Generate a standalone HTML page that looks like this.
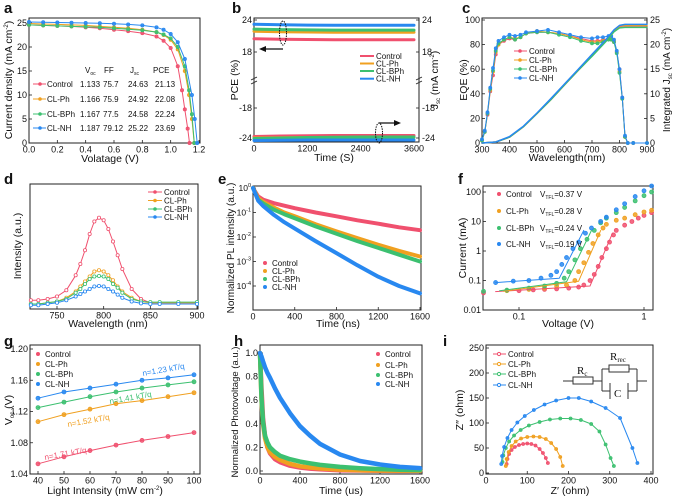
<!DOCTYPE html>
<html><head><meta charset="utf-8"><style>
html,body{margin:0;padding:0;background:#fff;}
svg{display:block;font-family:"Liberation Sans",Arial,sans-serif;}
</style></head><body>
<svg id="fig" width="676" height="496" viewBox="0 0 676 496" xmlns="http://www.w3.org/2000/svg"></svg>
<script>
// ---------- data ----------
const seriesNames=['Control','CL-Ph','CL-BPh','CL-NH'];
// a: J-V
const aV=[[0,0.1,0.2,0.3,0.4,0.5,0.6,0.7,0.8,0.9,0.95,1.0,1.05,1.08,1.1,1.12,1.133],
 [0,0.1,0.2,0.3,0.4,0.5,0.6,0.7,0.8,0.9,0.95,1.0,1.05,1.1,1.13,1.15,1.166],
 [0,0.1,0.2,0.3,0.4,0.5,0.6,0.7,0.8,0.9,0.95,1.0,1.05,1.1,1.13,1.15,1.167],
 [0,0.1,0.2,0.3,0.4,0.5,0.6,0.7,0.8,0.9,0.95,1.0,1.05,1.1,1.15,1.17,1.187]];
const aJ=[[24.6,24.5,24.4,24.3,24.1,23.9,23.6,23.3,22.9,22.2,21.3,19.8,16,11,7,3,0],
 [24.9,24.8,24.7,24.6,24.5,24.3,24.1,23.9,23.6,23.1,22.5,21.5,19.5,15,10,5,0],
 [24.6,24.5,24.4,24.3,24.2,24.1,23.9,23.7,23.5,23.1,22.6,21.8,20,16,11,6,0],
 [25.2,25.15,25.1,25.05,25,24.95,24.85,24.7,24.5,24.1,23.6,22.7,21,17.5,10,5,0]];
const aVoc=['1.133','1.166','1.167','1.187'];
const aFF=['75.7','75.9','77.5','79.12'];
const aJsc=['24.63','24.92','24.58','25.22'];
const aPCE=['21.13','22.08','22.24','23.69'];
// b: stability
const bT=[0,600,1200,1800,2400,3000,3600];
const bPCE=[[20.5,20.4,20.35,20.3,20.3,20.3,20.3],[21.9,21.8,21.75,21.7,21.7,21.7,21.7],[22.3,22.2,22.15,22.1,22.1,22.1,22.1],[23.2,23.1,23.05,23.0,23.0,23.0,23.0]];
const bJsc=[[-23.7,-23.6,-23.55,-23.5,-23.5,-23.5,-23.5],[-24.0,-23.95,-23.9,-23.9,-23.9,-23.9,-23.9],[-24.1,-24.0,-23.9,-23.85,-23.8,-23.8,-23.8],[-24.5,-24.45,-24.4,-24.4,-24.4,-24.4,-24.4]];
// c: EQE
const cW=[300,310,320,330,340,350,360,380,400,420,440,460,500,540,580,620,660,700,720,740,760,770,780,790,800,810,820,830,850,900];
const cEQE=[[2,9,23,42,55,72,80,83,85,84,86,89,90,90,89,87,85,83,83,84,85,84,82,74,60,37,5,0,0,0],
 [2,9,24,43,58,74,80,84,86,85,86,89,91,90,89,87,84,82,82,83,85,85,83,74,58,36,5,0,0,0],
 [2,9,24,44,59,75,81,84,86,84,86,89,90,90,88,86,83,81,81,82,84,84,82,73,57,36,5,0,0,0],
 [3,10,25,45,61,77,83,86,88,87,88,90,91,92,90,88,86,85,86,86,87,87,84,75,60,37,6,0,0,0]];
const cIW=[300,350,400,450,500,550,600,650,700,750,780,800,820,900];
const cInt=[[0,0.2,1.2,3.3,6,8.8,11.8,14.8,17.7,20.8,22.7,23.5,23.6,23.6],
 [0,0.2,1.2,3.3,6,8.8,11.8,14.8,17.7,20.8,22.8,23.8,23.9,23.9],
 [0,0.2,1.2,3.3,6,8.8,11.8,14.8,17.6,20.6,22.6,23.4,23.5,23.5],
 [0,0.2,1.3,3.4,6.1,9,12,15,18,21,23,23.9,24.1,24.1]];
// d: PL
const dW=[722,730,740,750,760,770,775,780,785,790,795,800,805,810,815,820,830,840,850,860,880,900];
const dI=[[7,7,8,10,15,27,36,47,60,70,73,71,64,54,43,32,16,8,5,5,5,5],
 [4,4,5,6,9,14,18,22,26,30,31,30,27,23,18,14,9,6,5,5,5,5],
 [4,4,5,6,8,13,16,20,24,26,26.4,26,24,20,17,13,8,6,5.5,5.5,5.5,5.5],
 [3,3,4,5,7,10,12,14,16,18,18.4,18,16,14,11.5,9,6,4.5,4,4,4,4]];
// e: TRPL
const eT=[0,50,100,200,300,400,600,800,1000,1200,1400,1600];
const eI=[[1,0.45,0.33,0.24,0.19,0.15,0.1,0.07,0.048,0.035,0.025,0.019],
 [1,0.38,0.27,0.16,0.1,0.07,0.033,0.017,0.009,0.0048,0.0027,0.0016],
 [1,0.33,0.23,0.13,0.085,0.058,0.027,0.0135,0.0068,0.0036,0.0019,0.001],
 [1,0.3,0.18,0.08,0.04,0.022,0.0068,0.0022,0.0007,0.00024,0.0001,0.00005]];
// f: SCLC
const fV=[[0.052,0.1,0.13,0.16,0.2,0.25,0.3,0.33,0.37,0.4,0.43,0.46,0.5,0.53,0.57,0.6,0.7,0.8,0.9,1.0,1.15],
 [0.08,0.12,0.16,0.2,0.24,0.28,0.3,0.33,0.36,0.39,0.43,0.47,0.5,0.6,0.7,0.85,1.0,1.15],
 [0.052,0.08,0.12,0.16,0.2,0.23,0.25,0.28,0.31,0.35,0.4,0.45,0.5,0.6,0.7,0.85,1.0,1.15],
 [0.065,0.09,0.12,0.15,0.18,0.2,0.22,0.24,0.27,0.3,0.34,0.38,0.45,0.5,0.6,0.7,0.85,1.0,1.15]];
const fI=[[0.038,0.045,0.048,0.05,0.052,0.055,0.06,0.07,0.1,0.16,0.3,0.6,1.2,2,3.5,5,7.5,10,13,16,20],
 [0.045,0.05,0.055,0.065,0.07,0.1,0.2,0.4,0.9,1.8,3.5,6,8,11,13,17,21,24],
 [0.043,0.047,0.055,0.065,0.08,0.12,0.2,0.5,1.2,2.5,5,9,13,20,30,50,75,100],
 [0.085,0.095,0.1,0.12,0.15,0.2,0.35,0.6,1.2,2,4,6,10,14,25,40,70,110,160]];
const fFitV=[[0.065,0.37,0.56],[0.075,0.3,0.45],[0.07,0.24,0.38],[0.065,0.21,0.33]];
const fFitI=[[0.042,0.065,4],[0.043,0.095,5],[0.045,0.09,5],[0.085,0.12,5]];
const fVtfl=['0.37','0.28','0.24','0.19'];
// g: Voc vs light
const gL=[40,50,60,70,80,90,100];
const gV=[[1.053,1.062,1.070,1.077,1.083,1.088,1.093],
 [1.107,1.116,1.123,1.130,1.134,1.139,1.144],
 [1.125,1.132,1.139,1.145,1.150,1.154,1.158],
 [1.137,1.145,1.150,1.155,1.160,1.163,1.167]];
const gN=['n=1.71 kT/q','n=1.52 kT/q','n=1.41 kT/q','n=1.23 kT/q'];
// h: TPV
const hT=[0,15,30,50,75,100,150,200,300,400,500,600,800,1000,1200,1400,1600];
const hV=[[1,0.7,0.45,0.3,0.2,0.15,0.1,0.075,0.045,0.03,0.02,0.014,0.007,0.004,0.002,0.001,0.001],
 [1,0.6,0.4,0.28,0.2,0.16,0.12,0.095,0.06,0.04,0.03,0.022,0.012,0.007,0.004,0.003,0.002],
 [1,0.62,0.42,0.3,0.24,0.2,0.16,0.13,0.1,0.08,0.065,0.052,0.035,0.024,0.016,0.011,0.008],
 [1,0.97,0.93,0.88,0.83,0.79,0.7,0.62,0.49,0.38,0.3,0.23,0.14,0.085,0.055,0.035,0.025]];
// i: Nyquist
const iX=[[50,52,56,62,70,80,90,100,110,120,130,138,145,150],
 [48,50,55,62,72,85,100,115,130,145,158,170,180,186],
 [40,42,48,56,68,84,104,130,155,180,205,230,255,275,290,302,310],
 [37,39,44,52,62,76,94,116,142,170,200,225,255,290,325,355,367]];
const iY=[[18,28,38,46,52,56,58,59,58,55,48,40,30,20],
 [14,28,42,54,63,69,72,73,72,68,60,48,32,14],
 [22,35,50,63,75,86,95,102,107,109,109,106,98,83,57,30,14],
 [18,34,52,70,86,101,114,126,137,145,150,150,143,130,110,50,20]];

// ---------- helpers ----------
const NS='http://www.w3.org/2000/svg';
const S=document.getElementById('fig');
const COL=['#f0506e','#f0a020','#3cc070','#2888f0'];
function mk(tag,attrs,name){
  const e=document.createElementNS(NS,tag);
  for(const k in attrs) e.setAttribute(k,attrs[k]);
  
  
  S.appendChild(e); return e;
}
function lin(d0,d1,p0,p1){return v=>p0+(v-d0)*(p1-p0)/(d1-d0);}
function lg(d0,d1,p0,p1){const a=Math.log10(d0),b=Math.log10(d1);return v=>p0+(Math.log10(v)-a)*(p1-p0)/(b-a);}
function txt(x,y,html,size,name,extra){
  const t=mk('text',Object.assign({x:x,y:y,'font-size':size,fill:'#111'},extra||{}),name);
  t.innerHTML=html; return t;
}
function frame(x0,y0,x1,y1,name){mk('rect',{x:x0,y:y0,width:x1-x0,height:y1-y0,fill:'none',stroke:'#222','stroke-width':1},name);}
function xTicks(vals,labels,sx,yb,name){
  vals.forEach((v,i)=>{const x=sx(v);
    mk('line',{x1:x,x2:x,y1:yb,y2:yb-3,stroke:'#222','stroke-width':0.8},name+'-tick');
    txt(x,yb+9.5,labels[i],9,name+'-label',{'text-anchor':'middle'});});
}
function yTicks(vals,labels,sy,xl,name,right){
  vals.forEach((v,i)=>{const y=sy(v);
    mk('line',{x1:xl,x2:right?xl-3:xl+3,y1:y,y2:y,stroke:'#222','stroke-width':0.8},name+'-tick');
    txt(right?xl+3:xl-2,y+3,labels[i],9,name+'-label',{'text-anchor':right?'start':'end'});});
}
function poly(xs,ys,sx,sy,color,w,name,dash){
  const p=xs.map((x,i)=>sx(x).toFixed(1)+','+sy(ys[i]).toFixed(1)).join(' ');
  const a={points:p,fill:'none',stroke:color,'stroke-width':w,'stroke-linejoin':'round','stroke-linecap':'round'};
  if(dash)a['stroke-dasharray']=dash;
  mk('polyline',a,name);
}
function dots(xs,ys,sx,sy,color,r,name,open){
  xs.forEach((x,i)=>{mk('circle',{cx:sx(x),cy:sy(ys[i]),r:r,fill:open?'#fff':color,'fill-opacity':open?1:0.85,stroke:color,'stroke-width':0.8},name);});
}
function vtitle(x,y,html,name,size){txt(x,y,html,size||10.5,name,{'text-anchor':'middle',transform:'rotate(-90 '+x+' '+y+')'});}
function letter(x,y,s){txt(x,y,s,15,'panel-label-'+s,{'font-weight':'bold'});}
const SUP='<tspan dy="-4" font-size="6">-2</tspan><tspan dy="4">)</tspan>';

// ---------- panel a ----------
(function(){
  const sx=lin(0,1.2,29,199), sy=lin(0,25,143,23);
  letter(4,13,'a');
  frame(29,18,200,143,'panel-a-frame');
  xTicks([0,0.2,0.4,0.6,0.8,1.0,1.2],['0.0','0.2','0.4','0.6','0.8','1.0','1.2'],sx,143,'a-x');
  yTicks([0,5,10,15,20,25],['0','5','10','15','20','25'],sy,29,'a-y');
  aV.forEach((v,k)=>{poly(v,aJ[k],sx,sy,COL[k],1,'jv-curve-'+seriesNames[k]);dots(v,aJ[k],sx,sy,COL[k],1.6,'jv-point-'+seriesNames[k]);});
  txt(110,162,'Volatage (V)',10.5,'a-x-title',{'text-anchor':'middle'});
  vtitle(12,80,'Current density (mA cm'+SUP,'a-y-title');
  const hy=73;
  txt(85,hy,'V<tspan font-size="5" dy="2">oc</tspan>',8,'table-header-voc');
  txt(104,hy,'FF',8,'table-header-ff');
  txt(130,hy,'J<tspan font-size="5" dy="2">sc</tspan>',8,'table-header-jsc');
  txt(153,hy,'PCE',8,'table-header-pce');
  const rows=[87,102,117,131];
  rows.forEach((y,k)=>{
    mk('line',{x1:33,x2:46,y1:y-3,y2:y-3,stroke:COL[k],'stroke-width':1},'table-legend-line');
    mk('circle',{cx:40,cy:y-3,r:1.8,fill:COL[k]},'table-legend-marker');
    txt(47,y,seriesNames[k],8,'table-row-label');
    txt(80,y,aVoc[k],8,'table-voc');
    txt(103,y,aFF[k],8,'table-ff');
    txt(128,y,aJsc[k],8,'table-jsc');
    txt(155,y,aPCE[k],8,'table-pce');
  });
})();

// ---------- panel b ----------
(function(){
  const sx=lin(0,3600,254,414), sT=lin(18,24,52,20), sB=lin(-24,-18,138,108);
  letter(232,13,'b');
  frame(254,18,419,142,'panel-b-frame');
  xTicks([0,1200,2400,3600],['0','1200','2400','3600'],sx,142,'b-x');
  yTicks([24,18],['24','18'],sT,254,'b-y-top');
  yTicks([-18,-24],['-18','-24'],sB,254,'b-y-bottom');
  yTicks([24,18],['24','18'],sT,419,'b-y2-top',true);
  yTicks([-18,-24],['-18','-24'],sB,419,'b-y2-bottom',true);
  [254,419].forEach(x=>{
    mk('line',{x1:x-3,x2:x+3,y1:80,y2:77,stroke:'#222','stroke-width':0.8},'axis-break');
    mk('line',{x1:x-3,x2:x+3,y1:84,y2:81,stroke:'#222','stroke-width':0.8},'axis-break');
  });
  bPCE.forEach((d,k)=>poly(bT,d,sx,sT,COL[k],3,'pce-trace-'+seriesNames[k]));
  bJsc.forEach((d,k)=>poly(bT,d,sx,sB,COL[k],3,'jsc-trace-'+seriesNames[k]));
  mk('ellipse',{cx:283,cy:33,rx:3.5,ry:12,fill:'none',stroke:'#111','stroke-width':1,'stroke-dasharray':'1.5,1'},'pce-ellipse');
  mk('line',{x1:283,x2:264,y1:49,y2:49,stroke:'#111','stroke-width':1.2},'left-arrow');
  mk('polygon',{points:'259,49 266,46 266,52',fill:'#111'},'left-arrowhead');
  mk('ellipse',{cx:379,cy:133,rx:3.5,ry:10,fill:'none',stroke:'#111','stroke-width':1,'stroke-dasharray':'1.5,1'},'jsc-ellipse');
  mk('line',{x1:379,x2:396,y1:123,y2:123,stroke:'#111','stroke-width':1.2},'right-arrow');
  mk('polygon',{points:'401,123 394,120 394,126',fill:'#111'},'right-arrowhead');
  [56,63.5,71,78.7].forEach((y,k)=>{
    mk('line',{x1:360,x2:374,y1:y,y2:y,stroke:COL[k],'stroke-width':2},'legend-line');
    txt(376,y+3,seriesNames[k],8,'legend-entry');
  });
  txt(334,161,'Time (S)',10.5,'b-x-title',{'text-anchor':'middle'});
  vtitle(238,80,'PCE (%)','b-y-title');
  vtitle(438,80,'J<tspan font-size="6" dy="2">sc</tspan><tspan dy="-2"> (mA cm</tspan>'+SUP,'b-y2-title');
})();

// ---------- panel c ----------
(function(){
  const sx=lin(300,900,482,647), sy=lin(0,100,143,20), sj=lin(0,25,143,20);
  letter(462,13,'c');
  frame(482,18,647,143,'panel-c-frame');
  xTicks([300,400,500,600,700,800,900],['300','400','500','600','700','800','900'],sx,143,'c-x');
  yTicks([0,20,40,60,80,100],['0','20','40','60','80','100'],sy,482,'c-y');
  yTicks([0,5,10,15,20,25],['0','5','10','15','20','25'],sj,647,'c-y2',true);
  cEQE.forEach((d,k)=>{poly(cW,d,sx,sy,COL[k],1,'eqe-curve-'+seriesNames[k]);dots(cW,d,sx,sy,COL[k],1.5,'eqe-point-'+seriesNames[k]);});
  cInt.forEach((d,k)=>{poly(cIW,d,sx,sj,COL[k],1.5,'integrated-jsc-'+seriesNames[k]);});
  [51,60,69,78].forEach((y,k)=>{
    mk('line',{x1:514,x2:527,y1:y,y2:y,stroke:COL[k],'stroke-width':1},'legend-line');
    mk('circle',{cx:520,cy:y,r:1.8,fill:COL[k]},'legend-marker');
    txt(529,y+3,seriesNames[k],8,'legend-entry');
  });
  txt(567,161,'Wavelength(nm)',10.5,'c-x-title',{'text-anchor':'middle'});
  vtitle(467,80,'EQE (%)','c-y-title');
  vtitle(670,80,'Integrated J<tspan font-size="6" dy="2">sc</tspan><tspan dy="-2"> (mA cm</tspan>'+SUP,'c-y2-title',10);
})();

// ---------- panel d ----------
(function(){
  const sx=lin(750,900,57,197), sy=lin(0,100,309,184);
  letter(4,184,'d');
  frame(30,184,198,309,'panel-d-frame');
  xTicks([750,800,850,900],['750','800','850','900'],sx,309,'d-x');
  dI.forEach((d,k)=>{poly(dW,d,sx,sy,COL[k],1,'pl-curve-'+seriesNames[k]);dots(dW,d,sx,sy,COL[k],1.6,'pl-point-'+seriesNames[k],true);});
  [192,200.5,209,217].forEach((y,k)=>{
    mk('line',{x1:148,x2:162,y1:y,y2:y,stroke:COL[k],'stroke-width':1},'legend-line');
    mk('circle',{cx:155,cy:y,r:1.8,fill:COL[k]},'legend-marker');
    txt(164,y+3,seriesNames[k],8,'legend-entry');
  });
  txt(108,327,'Wavelength (nm)',10.5,'d-x-title',{'text-anchor':'middle'});
  vtitle(21,246,'Intensity (a.u.)','d-y-title');
})();

// ---------- panel e ----------
(function(){
  const sx=lin(0,1600,253,420), sy=lg(1,1e-4,188,286);
  letter(218,184,'e');
  frame(253,186,421,310,'panel-e-frame');
  xTicks([0,400,800,1200,1600],['0','400','800','1200','1600'],sx,310,'e-x');
  [0,-1,-2,-3,-4].forEach(p=>{const y=sy(Math.pow(10,p));
    mk('line',{x1:253,x2:256,y1:y,y2:y,stroke:'#222','stroke-width':0.8},'e-y-tick');
    txt(251,y+3,'10<tspan dy="-4" font-size="5.5">'+p+'</tspan>',8.5,'e-y-label',{'text-anchor':'end'});});
  eI.forEach((d,k)=>poly(eT,d,sx,sy,COL[k],4,'trpl-decay-'+seriesNames[k]));
  [266,274,282,290].forEach((y,k)=>{
    mk('circle',{cx:265,cy:y-3,r:2,fill:COL[k]},'legend-marker');
    txt(272,y,seriesNames[k],8,'legend-entry');
  });
  txt(338,327,'Time (ns)',10.5,'e-x-title',{'text-anchor':'middle'});
  vtitle(234,248,'Normalized PL intensity (a.u.)','e-y-title',10);
})();

// ---------- panel f ----------
(function(){
  const sx=lg(0.1,1,519,644), sy=lg(0.01,100,310,192);
  letter(458,184,'f');
  frame(483,186,653,310,'panel-f-frame');
  xTicks([0.1,1],['0.1','1'],sx,310,'f-x');
  yTicks([0.01,0.1,1,10,100],['0.01','0.1','1','10','100'],sy,483,'f-y');
  fV.forEach((v,k)=>dots(v,fI[k],sx,sy,COL[k],2,'sclc-point-'+seriesNames[k]));
  fFitV.forEach((v,k)=>poly(v,fFitI[k],sx,sy,COL[k],1,'sclc-fit-'+seriesNames[k]));
  [197,214,231,247].forEach((y,k)=>{
    mk('circle',{cx:499,cy:y-3,r:2,fill:COL[k]},'legend-marker');
    txt(506,y,seriesNames[k],8,'legend-entry');
    txt(540,y,'V<tspan font-size="5" dy="2">TFL</tspan><tspan dy="-2">=</tspan>'+fVtfl[k]+' V',8,'vtfl-value');
  });
  txt(568,327,'Voltage (V)',10.5,'f-x-title',{'text-anchor':'middle'});
  vtitle(466,248,'Current (mA)','f-y-title');
})();

// ---------- panel g ----------
(function(){
  const sx=lin(40,100,38,194), sy=lin(1.04,1.2,474,349);
  letter(4,346,'g');
  frame(30,345,200,474,'panel-g-frame');
  xTicks([40,50,60,70,80,90,100],['40','50','60','70','80','90','100'],sx,474,'g-x');
  yTicks([1.04,1.08,1.12,1.16,1.20],['1.04','1.08','1.12','1.16','1.20'],sy,30,'g-y');
  gV.forEach((d,k)=>{poly(gL,d,sx,sy,COL[k],1,'fit-line-'+seriesNames[k]);dots(gL,d,sx,sy,COL[k],2,'voc-point-'+seriesNames[k]);});
  [357,367,377,387].forEach((y,k)=>{
    mk('circle',{cx:38,cy:y-3,r:2,fill:COL[k]},'legend-marker');
    txt(45,y,seriesNames[k],8,'legend-entry');
  });
  const pos=[[45,460],[68,427],[110,404],[143,376]];
  pos.forEach((p,k)=>txt(p[0],p[1],gN[k],8,'ideality-label',{fill:COL[k],transform:'rotate(-10 '+p[0]+' '+p[1]+')'}));
  txt(105,494,'Light Intensity (mW cm'+SUP,10.5,'g-x-title',{'text-anchor':'middle'});
  vtitle(12,410,'V<tspan font-size="6" dy="2">oc</tspan><tspan dy="-2"> (V)</tspan>','g-y-title');
})();

// ---------- panel h ----------
(function(){
  const sx=lin(0,1600,260,420), sy=lin(0,1,471,353);
  letter(234,346,'h');
  frame(260,345,422,474,'panel-h-frame');
  xTicks([0,400,800,1200,1600],['0','400','800','1200','1600'],sx,474,'h-x');
  yTicks([0,0.2,0.4,0.6,0.8,1.0],['0.0','0.2','0.4','0.6','0.8','1.0'],sy,260,'h-y');
  [0,1,2,3].forEach(k=>poly(hT,hV[k],sx,sy,COL[k],4.5,'tpv-decay-'+seriesNames[k]));
  [357,368,378,387].forEach((y,k)=>{
    mk('circle',{cx:378,cy:y-3,r:2,fill:COL[k]},'legend-marker');
    txt(385,y,seriesNames[k],8,'legend-entry');
  });
  txt(341,494,'Time (us)',10.5,'h-x-title',{'text-anchor':'middle'});
  vtitle(238,412,'Normalized Photovoltage (a.u.)','h-y-title',9.5);
})();

// ---------- panel i ----------
(function(){
  const sx=lin(0,400,486,651), sy=lin(0,250,473,348);
  letter(443,346,'i');
  frame(486,345,653,474,'panel-i-frame');
  xTicks([0,100,200,300,400],['0','100','200','300','400'],sx,474,'i-x');
  yTicks([0,50,100,150,200,250],['0','50','100','150','200','250'],sy,486,'i-y');
  iX.forEach((v,k)=>{poly(v,iY[k],sx,sy,COL[k],1,'nyquist-curve-'+seriesNames[k]);dots(v,iY[k],sx,sy,COL[k],1.5,'nyquist-point-'+seriesNames[k]);});
  [357,367,377,388].forEach((y,k)=>{
    mk('line',{x1:493,x2:506,y1:y-3,y2:y-3,stroke:COL[k],'stroke-width':1},'legend-line');
    mk('circle',{cx:499,cy:y-3,r:1.6,fill:'#fff',stroke:COL[k]},'legend-marker');
    txt(508,y,seriesNames[k],8,'legend-entry');
  });
  const c='#333';
  mk('line',{x1:563,x2:573,y1:381,y2:381,stroke:c},'circuit-wire');
  mk('rect',{x:573,y:377,width:20,height:7,fill:'#fff',stroke:c},'resistor-rs');
  mk('line',{x1:593,x2:602,y1:381,y2:381,stroke:c},'circuit-wire');
  mk('line',{x1:602,x2:602,y1:369,y2:391,stroke:c},'circuit-wire');
  mk('line',{x1:602,x2:609,y1:369,y2:369,stroke:c},'circuit-wire');
  mk('rect',{x:609,y:365,width:20,height:7,fill:'#fff',stroke:c},'resistor-rrec');
  mk('line',{x1:629,x2:637,y1:369,y2:369,stroke:c},'circuit-wire');
  mk('line',{x1:637,x2:637,y1:369,y2:391,stroke:c},'circuit-wire');
  mk('line',{x1:637,x2:647,y1:381,y2:381,stroke:c},'circuit-wire');
  mk('line',{x1:602,x2:610,y1:391,y2:391,stroke:c},'circuit-wire');
  mk('line',{x1:610,x2:610,y1:383,y2:399,stroke:c},'capacitor-plate');
  mk('line',{x1:628,x2:628,y1:383,y2:399,stroke:c},'capacitor-plate');
  mk('line',{x1:628,x2:637,y1:391,y2:391,stroke:c},'circuit-wire');
  txt(577,374,'R<tspan font-size="7" dy="2">c</tspan>',11,'label-rc',{'font-family':'Liberation Serif, serif'});
  txt(610,360,'R<tspan font-size="7" dy="2">rec</tspan>',11,'label-rrec',{'font-family':'Liberation Serif, serif'});
  txt(614,397,'C',11,'label-c',{'font-family':'Liberation Serif, serif'});
  txt(570,494,'Z′ (ohm)',10.5,'i-x-title',{'text-anchor':'middle'});
  vtitle(463,410,'Z′′ (ohm)','i-y-title');
})();
</script>
</body></html>
